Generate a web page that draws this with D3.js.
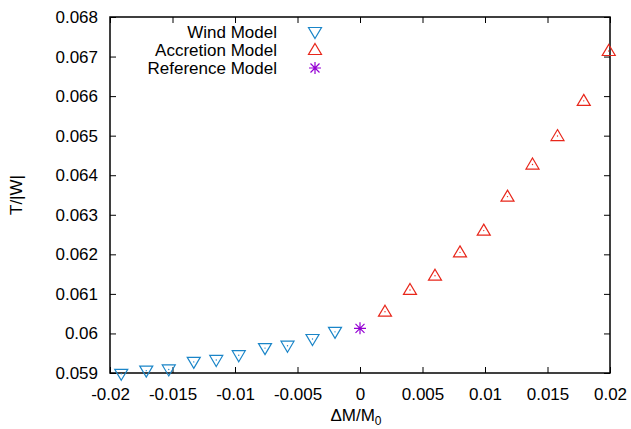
<!DOCTYPE html>
<html>
<head>
<meta charset="utf-8">
<script src="https://cdn.jsdelivr.net/npm/d3@7"></script>
<style>
  body { margin: 0; background: #fff; }
  text { font-family: "Liberation Sans", Arial, sans-serif; }
</style>
</head>
<body>
<svg id="chart"></svg>
<script>
// data
const windX = [-0.0191, -0.0171, -0.0153, -0.0133, -0.0115, -0.0097, -0.0076, -0.0058, -0.0038, -0.0020];
const windY = [0.05898, 0.05906, 0.05909, 0.05928, 0.05933, 0.05945, 0.05963, 0.05969, 0.05986, 0.06004];
const accX = [0.0020, 0.0040, 0.0060, 0.0080, 0.0099, 0.0118, 0.0138, 0.0158, 0.0179, 0.0199];
const accY = [0.06055, 0.06110, 0.06146, 0.06205, 0.06260, 0.06346, 0.06427, 0.06499, 0.06588, 0.06714];
const refX = [0];
const refY = [0.06013];
const xTicks = [-0.02, -0.015, -0.01, -0.005, 0, 0.005, 0.01, 0.015, 0.02];
const yTicks = [0.059, 0.06, 0.061, 0.062, 0.063, 0.064, 0.065, 0.066, 0.067, 0.068];
const legendLabels = ["Wind Model", "Accretion Model", "Reference Model"];

const width = 631, height = 429;
const margin = {left: 110, right: 21, top: 17, bottom: 56};

const svg = d3.select("#chart")
    .attr("width", width)
    .attr("height", height);

const x = d3.scaleLinear().domain([-0.02, 0.02]).range([margin.left, width - margin.right]);
const y = d3.scaleLinear().domain([0.059, 0.068]).range([height - margin.bottom, margin.top]);

const fmt = d => d === 0 ? "0" : String(+d.toFixed(4));
const tickLen = 6;

// axes (ticks pointing inward, mirrored on top and right)
svg.append("g")
    .attr("transform", `translate(0,${y.range()[0]})`)
    .call(d3.axisBottom(x).tickValues(xTicks).tickFormat(fmt).tickSizeInner(-tickLen).tickSizeOuter(0).tickPadding(15))
    .call(g => g.selectAll("text").attr("font-size", 17).attr("fill", "#000").attr("font-family", "Liberation Sans, Arial, sans-serif"));
svg.append("g")
    .attr("transform", `translate(0,${y.range()[1]})`)
    .call(d3.axisTop(x).tickValues(xTicks).tickFormat("").tickSizeInner(-tickLen).tickSizeOuter(0));
svg.append("g")
    .attr("transform", `translate(${x.range()[0]},0)`)
    .call(d3.axisLeft(y).tickValues(yTicks).tickFormat(fmt).tickSizeInner(-tickLen).tickSizeOuter(0).tickPadding(12))
    .call(g => g.selectAll("text").attr("font-size", 17).attr("fill", "#000").attr("font-family", "Liberation Sans, Arial, sans-serif"));
svg.append("g")
    .attr("transform", `translate(${x.range()[1]},0)`)
    .call(d3.axisRight(y).tickValues(yTicks).tickFormat("").tickSizeInner(-tickLen).tickSizeOuter(0));

svg.selectAll(".domain").remove();
svg.selectAll(".tick line").attr("stroke", "#000");

// frame
svg.append("rect")
    .attr("x", x.range()[0]).attr("y", y.range()[1])
    .attr("width", x.range()[1] - x.range()[0])
    .attr("height", y.range()[0] - y.range()[1])
    .attr("fill", "none").attr("stroke", "#000").attr("stroke-width", 1.5);

// axis titles
svg.append("text")
    .attr("transform", `translate(22,${(y.range()[0] + y.range()[1]) / 2}) rotate(-90)`)
    .attr("text-anchor", "middle")
    .attr("font-size", 17)
    .text("T/|W|");

const xl = svg.append("text")
    .attr("x", x(0) - 4).attr("y", 421)
    .attr("text-anchor", "middle")
    .attr("font-size", 17);
xl.append("tspan").text("ΔM/M");
xl.append("tspan").attr("dy", 4).attr("font-size", 12).text("0");

// markers
const windColor = "#1a85c8", accColor = "#e8261a", refColor = "#9400d3";
const triUp = "M0,-6.5L6.5,4.5L-6.5,4.5Z";
const triDown = "M0,6.5L6.5,-4.5L-6.5,-4.5Z";
const star = "M-6,0H6M0,-6V6M-4.5,-4.5L4.5,4.5M-4.5,4.5L4.5,-4.5";

function drawPoints(xs, ys, path, color, dot) {
  const g = svg.append("g");
  const pts = xs.map((d, i) => [d, ys[i]]);
  g.selectAll("path").data(pts).join("path")
      .attr("transform", d => `translate(${x(d[0])},${y(d[1])})`)
      .attr("d", path)
      .attr("fill", "none")
      .attr("stroke", color)
      .attr("stroke-width", 1.2);
  if (dot) {
    g.selectAll("circle").data(pts).join("circle")
        .attr("cx", d => x(d[0]))
        .attr("cy", d => y(d[1]))
        .attr("r", 0.7)
        .attr("fill", color);
  }
}

drawPoints(windX, windY, triDown, windColor, true);
drawPoints(accX, accY, triUp, accColor, true);
drawPoints(refX, refY, star, refColor, false);

// legend
const legendColors = [windColor, accColor, refColor];
const legendPaths = [triDown, triUp, star];
legendLabels.forEach((lab, i) => {
  const ly = 32 + i * 18;
  svg.append("text")
      .attr("x", 277).attr("y", ly + 6)
      .attr("text-anchor", "end")
      .attr("font-size", 17)
      .text(lab);
  svg.append("path")
      .attr("transform", `translate(315,${ly})`)
      .attr("d", legendPaths[i])
      .attr("fill", "none")
      .attr("stroke", legendColors[i])
      .attr("stroke-width", 1.2);
});
</script>
</body>
</html>
